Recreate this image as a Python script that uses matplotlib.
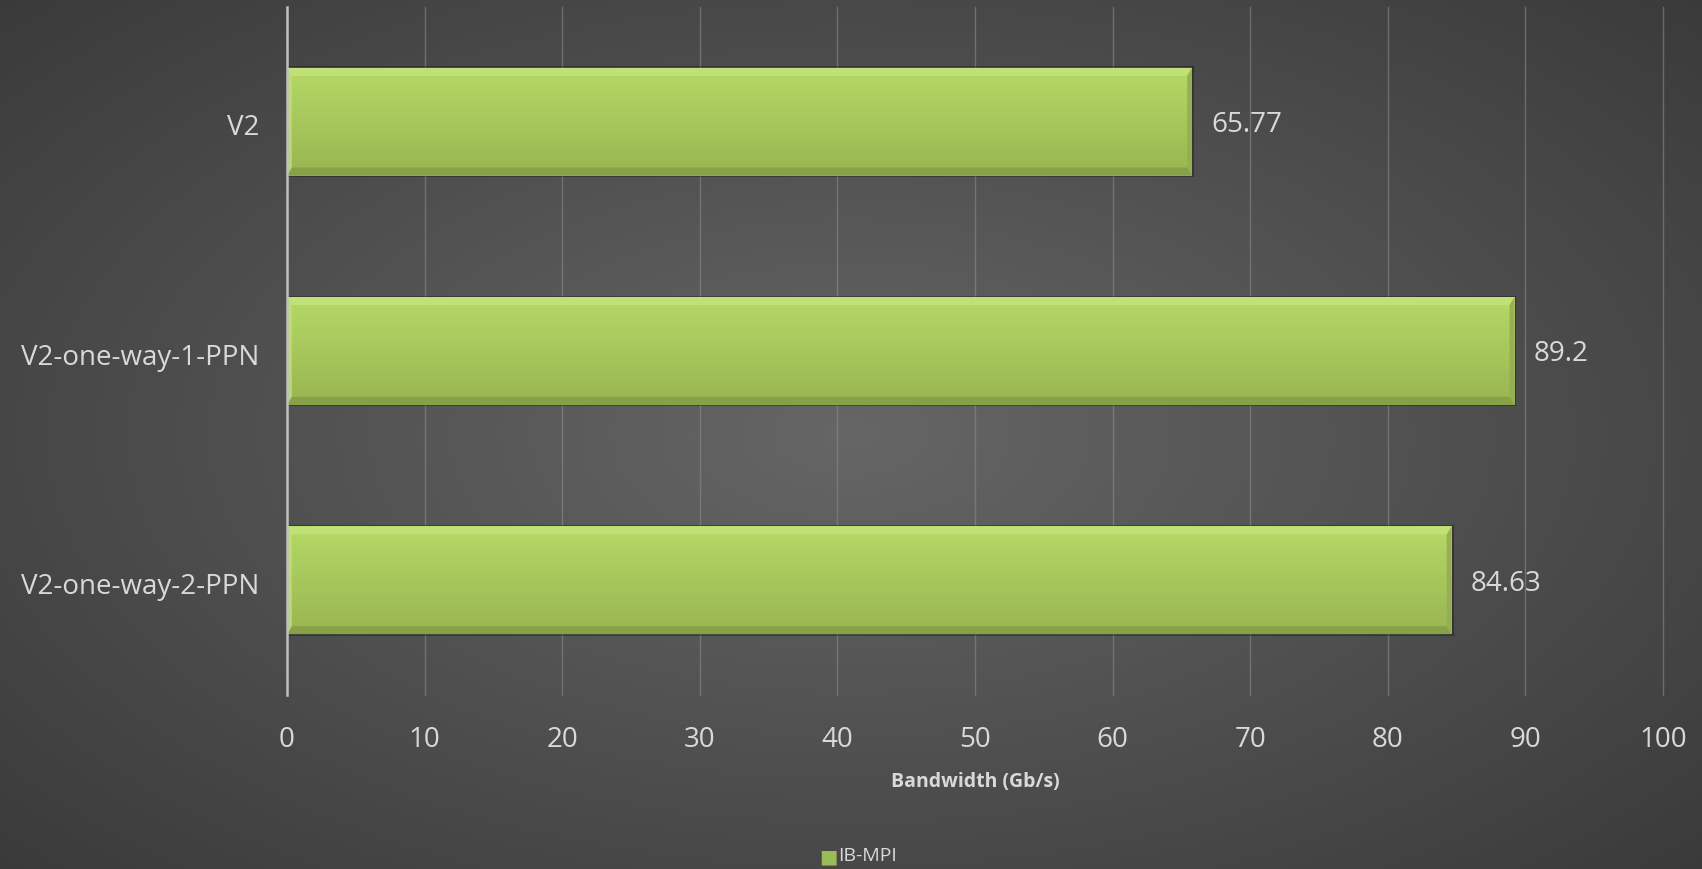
import numpy as np
import matplotlib.pyplot as plt
import matplotlib.transforms as mtransforms
from matplotlib.patches import Rectangle, Polygon

categories = ["V2", "V2-one-way-1-PPN", "V2-one-way-2-PPN"]
bandwidth = [65.77, 89.2, 84.63]
labels = ["65.77", "89.2", "84.63"]
xticks = [0, 10, 20, 30, 40, 50, 60, 70, 80, 90, 100]

plt.rcParams['font.family'] = ['Open Sans', 'DejaVu Sans']

fig = plt.figure(figsize=(17.02, 8.69), dpi=100)

# radial gradient background
bg = fig.add_axes([0, 0, 1, 1], zorder=-10)
yy, xx = np.mgrid[-1:1:400j, -1:1:800j]
r = np.sqrt((xx * 0.95) ** 2 + (yy * 0.9) ** 2)
r = np.clip(r / 1.3, 0, 1)
shade = 0.40 - 0.17 * r
bg.imshow(np.dstack([shade, shade, shade]), aspect='auto', extent=[0, 1, 0, 1])
bg.set_axis_off()

ax = fig.add_axes([287 / 1702, 1 - 695 / 869, (1663 - 287) / 1702, (695 - 7) / 869])
ax.patch.set_alpha(0)

ypos = np.arange(len(categories))
h = 0.47
grad = np.linspace(0, 1, 100).reshape(-1, 1)
top = np.array([0.71, 0.85, 0.40])
bot = np.array([0.60, 0.71, 0.32])
for y, v in zip(ypos, bandwidth):
    y0, y1 = y - h / 2, y + h / 2
    # shadow
    ax.add_patch(Rectangle((0, y0 - 0.006), v + 0.15, h + 0.012, color='black', alpha=0.3, lw=0, zorder=2))
    img = top + (bot - top) * grad[:, :, None]
    im = ax.imshow(img, extent=[0, v, y1, y0], aspect='auto', zorder=3)
    rect = Rectangle((0, y0), v, h, transform=ax.transData, fc='none', ec='none')
    ax.add_patch(rect)
    im.set_clip_path(rect)
    # bevel edges
    bx = 0.35
    by = 0.035
    ax.add_patch(Polygon([[0, y0], [v, y0], [v - bx, y0 + by], [bx, y0 + by]], closed=True,
                         fc=(0.78, 0.90, 0.50), ec='none', alpha=0.7, zorder=4))
    ax.add_patch(Polygon([[0, y1], [v, y1], [v - bx, y1 - by], [bx, y1 - by]], closed=True,
                         fc=(0.50, 0.60, 0.27), ec='none', alpha=0.7, zorder=4))
    ax.add_patch(Polygon([[v, y0], [v, y1], [v - bx, y1 - by], [v - bx, y0 + by]], closed=True,
                         fc=(0.58, 0.68, 0.32), ec='none', alpha=0.9, zorder=4))
    ax.add_patch(Polygon([[0, y0], [0, y1], [bx, y1 - by], [bx, y0 + by]], closed=True,
                         fc=(0.76, 0.88, 0.48), ec='none', alpha=0.8, zorder=4))

for y, v, t in zip(ypos, bandwidth, labels):
    ax.text(v + 1.4, y + 0.015, t, va='center', ha='left', fontsize=20, color='#d9d9d9')

ax.set_xlim(0, 100)
ax.set_ylim(2.5, -0.5)
ax.set_xticks(xticks)
ax.set_yticks(ypos)
ax.set_yticklabels(categories)
ax.tick_params(axis='both', length=0, labelsize=20, colors='#d9d9d9')
ax.tick_params(axis='x', pad=22)
ax.tick_params(axis='y', pad=20)
shift = mtransforms.ScaledTranslation(0, -3 / 100, fig.dpi_scale_trans)
for lbl in ax.get_yticklabels():
    lbl.set_transform(lbl.get_transform() + shift)
ax.grid(axis='x', color='#8a8a8a', lw=1, alpha=0.6, zorder=0)
for gl in ax.get_xgridlines():
    gl.set_clip_on(False)
ax.set_axisbelow(True)
for s in ['top', 'right', 'bottom']:
    ax.spines[s].set_visible(False)
ax.spines['left'].set_color('#bfbfbf')
ax.spines['left'].set_linewidth(1.8)
ax.spines['left'].set_zorder(6)

ax.set_xlabel("Bandwidth (Gb/s)", fontsize=14, fontweight='bold', color='#d9d9d9', labelpad=13)

# legend
fig.text(0.4865, 1 - 857 / 869, "\u25A0", fontsize=14, color='#9bbb59', va='center', ha='center')
fig.text(0.4925, 1 - 856 / 869, "IB-MPI", fontsize=14, color='#d9d9d9', va='center', ha='left')

fig.savefig("out.png", dpi=100)
